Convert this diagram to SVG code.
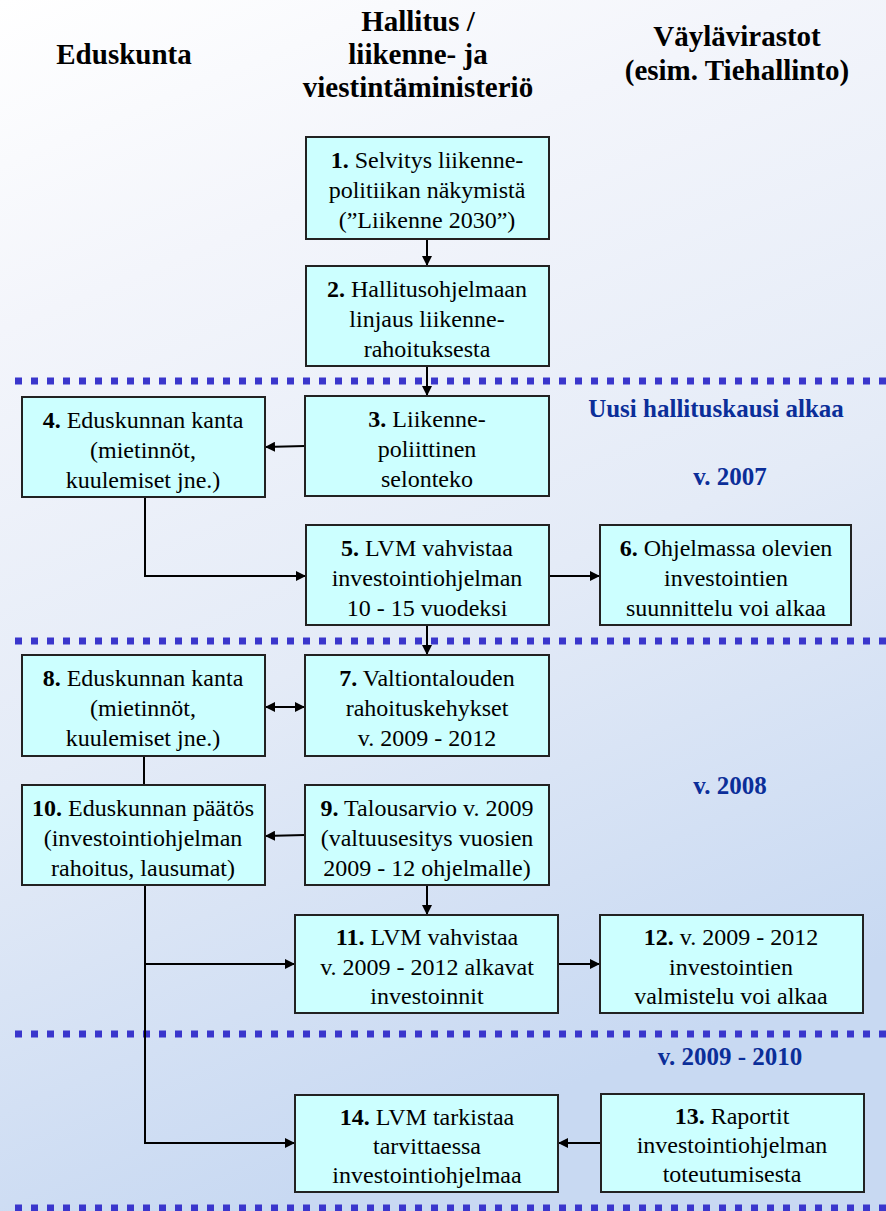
<svg xmlns="http://www.w3.org/2000/svg" width="886" height="1211" viewBox="0 0 886 1211" font-family="'Liberation Serif', 'Times New Roman', serif">
<defs>
<linearGradient id="bg" x1="0" y1="0" x2="0.3" y2="1">
<stop offset="0" stop-color="#ffffff"/>
<stop offset="0.25" stop-color="#f3f5fb"/>
<stop offset="0.6" stop-color="#e4ebf7"/>
<stop offset="1" stop-color="#c8d9f2"/>
</linearGradient>
<marker id="ah" viewBox="0 0 10 10" refX="10" refY="5" markerWidth="10" markerHeight="10" markerUnits="userSpaceOnUse" orient="auto-start-reverse">
<path d="M0,0 L10,5 L0,10 z" fill="#000"/>
</marker>
<style>
.box{fill:#ccffff;stroke:#222;stroke-width:2}
.t{font-size:24px;fill:#000;text-anchor:middle}
.b{font-weight:bold}
.h{font-size:29px;font-weight:bold;fill:#000;text-anchor:middle}
.lab{font-size:25px;font-weight:bold;fill:#0b2e99;text-anchor:middle}
.dot{stroke:#3a36cc;stroke-width:7;stroke-dasharray:7 9;fill:none}
.c{stroke:#000;stroke-width:2;fill:none}
</style>
</defs>
<rect width="886" height="1211" fill="url(#bg)"/>
<g id="headers">
<text class="h" x="124" y="64">Eduskunta</text>
<text class="h" x="418" y="31">Hallitus /</text>
<text class="h" x="418" y="64">liikenne- ja</text>
<text class="h" x="418" y="97">viestintäministeriö</text>
<text class="h" x="737" y="46">Väylävirastot</text>
<text class="h" x="737" y="80">(esim. Tiehallinto)</text>
</g>
<g id="separators">
<line class="dot" x1="15" y1="381" x2="886" y2="381"/>
<line class="dot" x1="15" y1="641" x2="886" y2="641"/>
<line class="dot" x1="15" y1="1034" x2="886" y2="1034"/>
<line class="dot" x1="15" y1="1208" x2="886" y2="1208"/>
</g>
<g id="labels">
<text class="lab" x="716" y="417">Uusi hallituskausi alkaa</text>
<text class="lab" x="730" y="485">v. 2007</text>
<text class="lab" x="730" y="794">v. 2008</text>
<text class="lab" x="730" y="1065">v. 2009 - 2010</text>
</g>
<g id="connectors">
<line class="c" x1="427" y1="239" x2="427" y2="266" marker-end="url(#ah)"/>
<line class="c" x1="427" y1="366" x2="427" y2="396" marker-end="url(#ah)"/>
<line class="c" x1="305" y1="446" x2="265" y2="447" marker-end="url(#ah)"/>
<polyline class="c" points="145,497 145,576 306,576" marker-end="url(#ah)"/>
<line class="c" x1="549" y1="576" x2="600" y2="576" marker-end="url(#ah)"/>
<line class="c" x1="427" y1="625" x2="427" y2="655" marker-end="url(#ah)"/>
<line class="c" x1="265" y1="707" x2="305" y2="707" marker-start="url(#ah)" marker-end="url(#ah)"/>
<line class="c" x1="144" y1="756" x2="144" y2="785"/>
<line class="c" x1="305" y1="835" x2="265" y2="836" marker-end="url(#ah)"/>
<line class="c" x1="427" y1="885" x2="427" y2="915" marker-end="url(#ah)"/>
<polyline class="c" points="145,885 145,1143 295,1143" marker-end="url(#ah)"/>
<line class="c" x1="145" y1="964" x2="295" y2="964" marker-end="url(#ah)"/>
<line class="c" x1="558" y1="964" x2="600" y2="964" marker-end="url(#ah)"/>
<line class="c" x1="601" y1="1143" x2="558" y2="1143" marker-end="url(#ah)"/>
</g>
<g id="n1"><rect class="box" x="306" y="137" width="243" height="102"/>
<text class="t" x="427" y="168"><tspan class="b">1.</tspan> Selvitys liikenne-</text>
<text class="t" x="427" y="198">politiikan näkymistä</text>
<text class="t" x="427" y="228">(”Liikenne 2030”)</text></g>
<g id="n2"><rect class="box" x="306" y="266" width="243" height="100"/>
<text class="t" x="427" y="297"><tspan class="b">2.</tspan> Hallitusohjelmaan</text>
<text class="t" x="427" y="327">linjaus liikenne-</text>
<text class="t" x="427" y="357">rahoituksesta</text></g>
<g id="n3"><rect class="box" x="305" y="396" width="244" height="100"/>
<text class="t" x="427" y="427"><tspan class="b">3.</tspan> Liikenne-</text>
<text class="t" x="427" y="457">poliittinen</text>
<text class="t" x="427" y="487">selonteko</text></g>
<g id="n4"><rect class="box" x="22" y="397" width="243" height="100"/>
<text class="t" x="143" y="428"><tspan class="b">4.</tspan> Eduskunnan kanta</text>
<text class="t" x="143" y="458">(mietinnöt,</text>
<text class="t" x="143" y="488">kuulemiset jne.)</text></g>
<g id="n5"><rect class="box" x="306" y="525" width="243" height="100"/>
<text class="t" x="427" y="556"><tspan class="b">5.</tspan> LVM vahvistaa</text>
<text class="t" x="427" y="586">investointiohjelman</text>
<text class="t" x="427" y="616">10 - 15 vuodeksi</text></g>
<g id="n6"><rect class="box" x="600" y="525" width="251" height="100"/>
<text class="t" x="726" y="556"><tspan class="b">6.</tspan> Ohjelmassa olevien</text>
<text class="t" x="726" y="586">investointien</text>
<text class="t" x="726" y="616">suunnittelu voi alkaa</text></g>
<g id="n7"><rect class="box" x="305" y="655" width="244" height="101"/>
<text class="t" x="427" y="686"><tspan class="b">7.</tspan> Valtiontalouden</text>
<text class="t" x="427" y="716">rahoituskehykset</text>
<text class="t" x="427" y="746">v. 2009 - 2012</text></g>
<g id="n8"><rect class="box" x="22" y="655" width="243" height="101"/>
<text class="t" x="143" y="686"><tspan class="b">8.</tspan> Eduskunnan kanta</text>
<text class="t" x="143" y="716">(mietinnöt,</text>
<text class="t" x="143" y="746">kuulemiset jne.)</text></g>
<g id="n9"><rect class="box" x="305" y="785" width="244" height="100"/>
<text class="t" x="427" y="816"><tspan class="b">9.</tspan> Talousarvio v. 2009</text>
<text class="t" x="427" y="846">(valtuusesitys vuosien</text>
<text class="t" x="427" y="876">2009 - 12 ohjelmalle)</text></g>
<g id="n10"><rect class="box" x="22" y="785" width="243" height="100"/>
<text class="t" x="143" y="816"><tspan class="b">10.</tspan> Eduskunnan päätös</text>
<text class="t" x="143" y="846">(investointiohjelman</text>
<text class="t" x="143" y="876">rahoitus, lausumat)</text></g>
<g id="n11"><rect class="box" x="295" y="915" width="263" height="98"/>
<text class="t" x="427" y="945"><tspan class="b">11.</tspan> LVM vahvistaa</text>
<text class="t" x="427" y="975">v. 2009 - 2012 alkavat</text>
<text class="t" x="427" y="1004">investoinnit</text></g>
<g id="n12"><rect class="box" x="600" y="915" width="263" height="98"/>
<text class="t" x="731" y="945"><tspan class="b">12.</tspan> v. 2009 - 2012</text>
<text class="t" x="731" y="975">investointien</text>
<text class="t" x="731" y="1004">valmistelu voi alkaa</text></g>
<g id="n13"><rect class="box" x="601" y="1094" width="263" height="98"/>
<text class="t" x="732" y="1124"><tspan class="b">13.</tspan> Raportit</text>
<text class="t" x="732" y="1153">investointiohjelman</text>
<text class="t" x="732" y="1182">toteutumisesta</text></g>
<g id="n14"><rect class="box" x="295" y="1095" width="263" height="97"/>
<text class="t" x="427" y="1125"><tspan class="b">14.</tspan> LVM tarkistaa</text>
<text class="t" x="427" y="1154">tarvittaessa</text>
<text class="t" x="427" y="1183">investointiohjelmaa</text></g>
</svg>
